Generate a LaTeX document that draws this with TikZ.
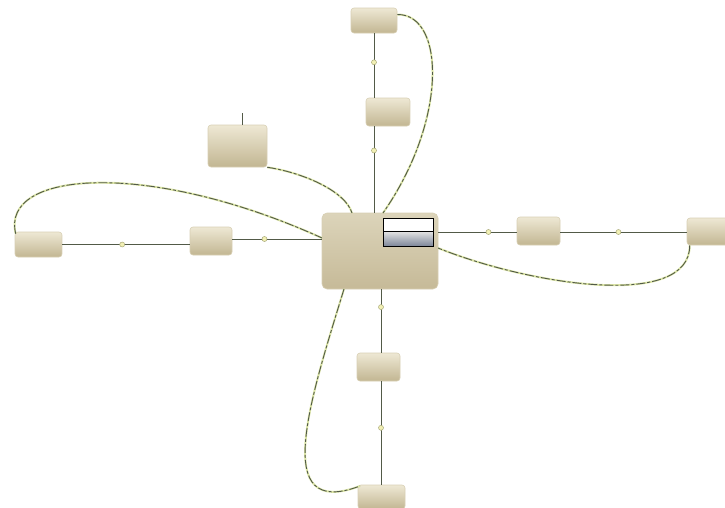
\documentclass[tikz,border=0pt]{standalone}
\usetikzlibrary{arrows.meta,calc}
\definecolor{boxtop}{HTML}{EEE8D4}
\definecolor{boxbot}{HTML}{C2B692}
\definecolor{ctop}{HTML}{DCD4BA}
\definecolor{cbot}{HTML}{C6BA98}
\definecolor{boxline}{HTML}{D8CFB4}
\definecolor{wire}{HTML}{525A48}
\definecolor{glow}{HTML}{DDE6A8}
\definecolor{dotfill}{HTML}{F2F0B4}
\definecolor{dotline}{HTML}{A8A878}
\definecolor{panelbot}{HTML}{7E879A}
\tikzset{
  blk/.style={draw=boxline, rounded corners=3pt, top color=boxtop, bottom color=boxbot, inner sep=0pt, line width=0.6pt},
  wireline/.style={draw=wire, line width=0.8pt},
  dotmark/.style={circle, draw=dotline, fill=dotfill, minimum size=5pt, inner sep=0pt, line width=0.5pt},
  glowline/.style={draw=glow, line width=2pt},
  dashline/.style={draw=wire, line width=0.9pt, dash pattern=on 9pt off 2pt on 3pt off 2pt},
}
\begin{document}
\begin{tikzpicture}[x=1pt,y=-1pt]
\useasboundingbox (0,0) rectangle (725,507);
% central block
\node[blk, rounded corners=5pt, minimum width=116pt, minimum height=76pt, top color=ctop, bottom color=cbot] (c) at (380,251) {};
\node[draw=black, line width=0.8pt, fill=white, minimum width=50pt, minimum height=13pt, inner sep=0pt] (p1) at (408,224.5) {};
\node[draw=black, line width=0.8pt, top color=gray!20, bottom color=panelbot, minimum width=50pt, minimum height=15pt, inner sep=0pt] (p2) at (408,238.5) {};
% other blocks
\node[blk, minimum width=46pt, minimum height=25pt] (T2) at (374,20.5) {};
\node[blk, minimum width=44pt, minimum height=28pt] (T1) at (388,112) {};
\node[blk, minimum width=59pt, minimum height=42pt] (TL) at (237.5,146) {};
\node[blk, minimum width=47pt, minimum height=25pt] (L2) at (38.5,244.5) {};
\node[blk, minimum width=42pt, minimum height=28pt] (L1) at (211,241) {};
\node[blk, minimum width=43pt, minimum height=28pt] (R1) at (538.5,231) {};
\node[blk, minimum width=46pt, minimum height=27pt] (R2) at (710,231.5) {};
\node[blk, minimum width=43pt, minimum height=28pt] (B1) at (378.5,367) {};
\node[blk, minimum width=47pt, minimum height=24pt] (B2) at (381.5,497) {};
% stub above TL
\coordinate (stub) at (242,113);
\draw[wireline] (stub) -- (stub |- TL.north);
% straight connectors
\coordinate (vx) at (381,0);
\draw[wireline] (T2.south) -- node[dotmark, pos=0.45] {} (T2.south |- T1.north);
\draw[wireline] (T1.south -| T2.south) -- node[dotmark, pos=0.28] {} (c.north -| T2.south);
\draw[wireline] (L2.east) -- node[dotmark, pos=0.47] {} (L2.east -| L1.west);
\draw[wireline] (L1.east |- 0,239) -- node[dotmark, pos=0.36] {} (c.west |- 0,239);
\draw[wireline] (c.east |- 0,232) -- node[dotmark, pos=0.64] {} (R1.west |- 0,232);
\draw[wireline] (R1.east |- 0,232) -- node[dotmark, pos=0.46] {} (R2.west |- 0,232);
\draw[wireline] (c.south -| vx) -- node[dotmark, pos=0.28] {} (B1.north -| vx);
\draw[wireline] (B1.south -| vx) -- node[dotmark, pos=0.45] {} (B2.north -| vx);
% curved connectors
\coordinate (a1) at ($(T2.east)+(0,-6)$);
\coordinate (a2) at (383,213);
\coordinate (b1) at (TL.south east);
\coordinate (b2) at (352,213);
\coordinate (l1) at ($(L2.north west)+(1,2)$);
\coordinate (l2) at (322,238);
\coordinate (r1) at ($(R2.south west)+(3,0)$);
\coordinate (r2) at (438,248);
\coordinate (d1) at (344,289);
\coordinate (d2) at (360,486);
\foreach \s in {glowline,dashline}{
  \draw[\s] (a1) .. controls (445,14) and (448,120) .. (a2);
  \draw[\s] (b1) .. controls (300,172) and (345,190) .. (b2);
  \draw[\s] (l1) .. controls (0,170) and (150,160) .. (l2);
  \draw[\s] (r1) .. controls (690,310) and (530,285) .. (r2);
  \draw[\s] (d1) .. controls (310,400) and (270,520) .. (d2);
}
\end{tikzpicture}
\end{document}
